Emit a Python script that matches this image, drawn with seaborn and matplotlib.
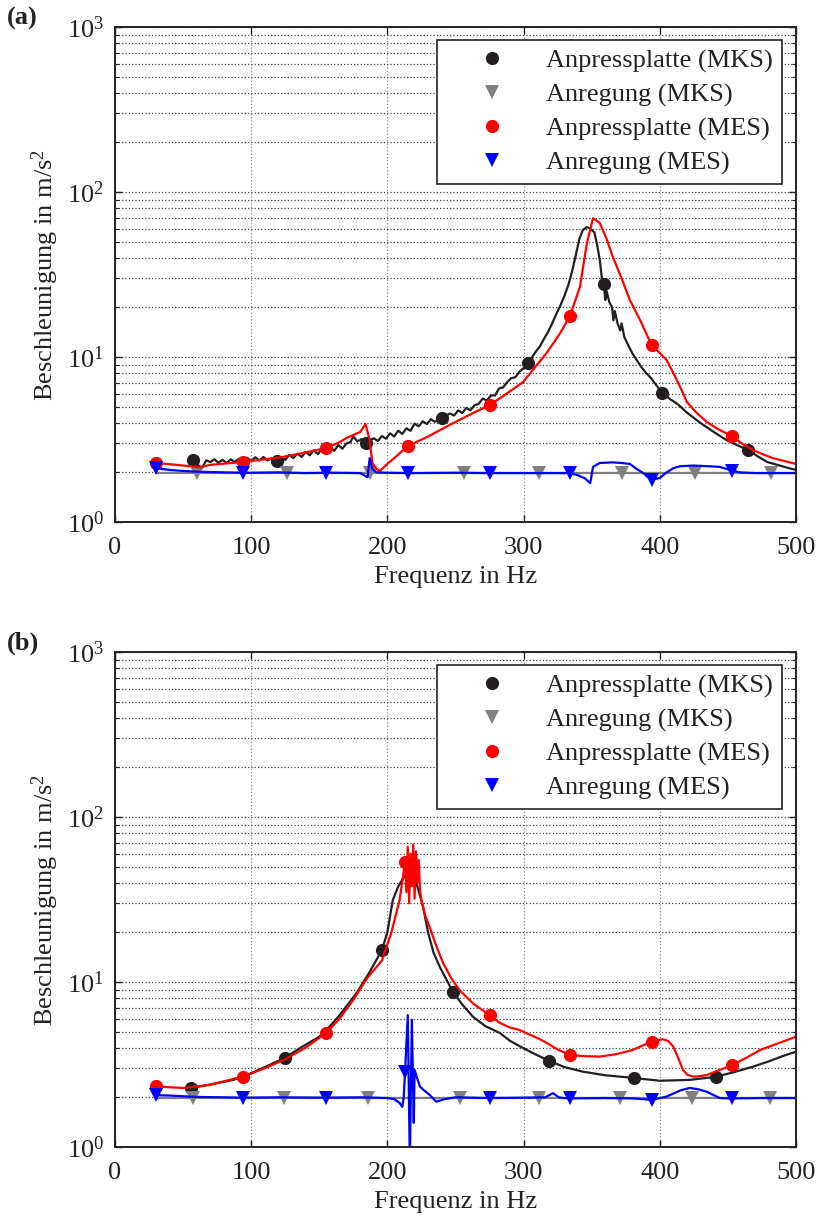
import numpy as np
import matplotlib
matplotlib.use('Agg')
import matplotlib.pyplot as plt
from matplotlib.lines import Line2D
import seaborn as sns

sns.set_style('ticks')
plt.rcParams['font.family'] = ['Liberation Serif', 'DejaVu Serif']
plt.rcParams['mathtext.fontset'] = 'custom'
plt.rcParams['mathtext.rm'] = 'Liberation Serif'
plt.rcParams['mathtext.it'] = 'Liberation Serif:italic'
plt.rcParams['font.size'] = 19

# ---------------- (a) ----------------
a_mks_plate_f = [57, 60, 64, 67, 70, 73, 76, 79, 82, 85, 88, 91, 94, 97, 100, 103, 106, 109, 112, 115,
                 119, 122, 125, 128, 131, 134, 137, 140, 143, 146, 149, 152, 155, 158, 161, 164, 167, 170,
                 173, 175, 178, 181, 184, 187, 190, 193, 196, 199, 202, 205, 208, 211, 214, 217, 220, 223,
                 226, 229, 232, 235, 240, 243, 246, 249, 252, 255, 258, 261, 264, 267, 270, 273, 276, 279,
                 282, 285, 288, 291, 294, 297, 300, 303, 306, 309, 312, 315, 318, 321, 324, 327, 330, 333,
                 336, 339, 341, 343.5, 346.5, 349, 352, 354, 356, 357.5, 359, 360, 361, 363, 365, 366, 367,
                 369, 371, 372, 374, 376, 378, 380, 383, 386, 390, 393, 396, 399, 402, 407, 413, 420, 430,
                 440, 449, 457, 465, 472, 479, 488, 495, 500]
a_mks_plate = [2.37, 2.25, 2.12, 2.37, 2.31, 2.40, 2.29, 2.38, 2.28, 2.40, 2.31, 2.42, 2.33, 2.45, 2.34,
               2.47, 2.36, 2.48, 2.36, 2.44, 2.33, 2.48, 2.38, 2.55, 2.44, 2.60, 2.48, 2.66, 2.54, 2.72,
               2.58, 2.78, 2.65, 2.85, 2.70, 2.93, 2.78, 3.00, 3.05, 3.30, 3.08, 3.18, 3.01, 3.12, 3.22,
               3.10, 3.32, 3.20, 3.45, 3.30, 3.58, 3.42, 3.70, 3.57, 3.95, 3.80, 4.08, 3.93, 4.20, 4.05,
               4.27, 4.40, 4.55, 4.42, 4.75, 4.58, 4.92, 4.76, 5.10, 5.20, 5.60, 5.45, 5.85, 5.85, 6.45,
               6.55, 7.05, 7.45, 7.55, 8.15, 8.55, 9.20, 9.90, 10.8, 11.6, 12.9, 14.2, 16.0, 18.2, 20.5,
               23.5, 27.5, 34.0, 44.0, 52.0, 58.9, 61.4, 60.0, 57.0, 48.0, 38.6, 30.0, 27.7, 22.2, 25.0,
               21.5, 20.0, 16.7, 19.0, 16.0, 14.5, 16.0, 13.2, 12.2, 11.3, 10.5, 9.6, 8.8, 8.0, 7.55,
               7.0, 6.5, 6.05, 5.6, 5.2, 4.6, 3.98, 3.5, 3.14, 2.92, 2.73, 2.5, 2.31, 2.2, 2.12, 2.07]
a_mks_plate_marks = [57, 119, 184, 240, 303, 359, 402, 465]

a_mks_exc_f = [30, 60, 126, 187, 256, 311, 372, 426, 482, 500]
a_mks_exc = [1.99, 1.99, 1.99, 1.99, 1.99, 1.99, 1.99, 1.99, 1.99, 1.99]
a_mks_exc_marks = [60, 126, 187, 256, 311, 372, 426, 482]

a_mes_plate_f = [30, 38, 45.5, 55, 62, 70, 80, 94, 110, 123, 140, 155, 165, 170, 176, 180, 184, 187, 189,
                 192, 194.6, 200, 207, 215, 230, 245, 260, 275, 285, 299.6, 317, 327, 334, 341.4, 346.5,
                 351, 356, 361, 365.6, 372, 378, 386, 394, 400, 405, 410, 415, 420, 427, 434.6, 443, 453,
                 460, 468.4, 476, 483, 491, 500]
a_mes_plate = [2.28, 2.25, 2.22, 2.18, 2.15, 2.22, 2.26, 2.31, 2.40, 2.48, 2.64, 2.81, 3.05, 3.23, 3.40,
               3.51, 3.92, 3.14, 2.28, 2.10, 2.04, 2.25, 2.52, 2.89, 3.30, 3.85, 4.45, 5.12, 5.80, 7.05,
               10.6, 14.0, 17.7, 26.6, 49.0, 69.5, 64.9, 52.0, 40.4, 30.0, 22.2, 16.5, 11.8, 10.6, 9.6,
               8.0, 6.58, 5.33, 4.6, 4.04, 3.65, 3.32, 3.0, 2.73, 2.57, 2.44, 2.35, 2.25]
a_mes_plate_marks = [30, 94, 155, 215, 275, 334, 394, 453]

a_mes_exc_f = [30, 40, 50, 60, 80, 94, 100, 120, 140, 155, 160, 180, 184, 185.5, 187, 189, 192, 200, 215,
               220, 250, 275, 280, 310, 334, 340, 345, 349, 351, 356, 365, 372, 378, 383, 388, 391, 394,
               400, 405, 410, 415, 425, 435, 444, 453, 459, 470, 485, 500]
a_mes_exc = [2.12, 2.07, 2.04, 2.02, 2.00, 1.99, 1.99, 2.00, 1.98, 1.99, 1.99, 1.98, 1.90, 1.87, 2.44,
             2.10, 2.00, 1.99, 1.98, 1.98, 1.99, 1.98, 1.98, 1.98, 1.98, 1.92, 1.84, 1.72, 2.16, 2.28,
             2.30, 2.28, 2.25, 2.10, 1.98, 1.88, 1.80, 1.85, 2.00, 2.12, 2.18, 2.20, 2.18, 2.16, 2.05,
             2.00, 1.98, 1.98, 1.98]
a_mes_exc_marks = [30, 94, 155, 215, 275, 334, 394, 453]

# ---------------- (b) ----------------
b_mks_plate_f = [56, 65, 75, 87, 100, 112, 125, 136, 150, 155.4, 165, 177.4, 187, 196, 200, 204, 208, 212,
                 216, 219, 222, 226, 230, 234, 238.6, 248, 255, 263, 272, 282.7, 290, 299.6, 310, 319,
                 330, 343.6, 360, 381, 400, 422, 441, 455, 468.6, 480, 490, 500]
b_mks_plate = [2.28, 2.35, 2.44, 2.55, 2.80, 3.10, 3.48, 3.98, 4.66, 5.12, 6.3, 8.57, 11.5, 15.6, 20.0,
               31.4, 38.0, 43.0, 47.0, 44.0, 38.0, 29.0, 19.8, 15.0, 12.3, 8.74, 7.3, 6.14, 5.4, 4.9,
               4.4, 3.98, 3.6, 3.32, 3.05, 2.86, 2.72, 2.62, 2.52, 2.55, 2.66, 2.85, 3.07, 3.3, 3.55, 3.78]
b_mks_plate_marks = [56, 125, 196, 248, 319, 381, 441]

b_mks_exc_f = [30, 57, 124, 186, 253, 311, 371, 424, 481, 500]
b_mks_exc = [1.99, 1.99, 1.99, 1.99, 1.99, 1.99, 1.99, 1.99, 1.99, 1.99]
b_mks_exc_marks = [57, 124, 186, 253, 311, 371, 424, 481]

b_mes_plate_f = [30, 40, 50, 60, 70, 80, 94, 110, 125, 140, 155, 165, 175, 185, 196, 203, 209, 213, 214,
                 215, 216, 217, 218, 219, 220, 221, 222, 223, 224, 225, 228, 231, 236, 241, 247, 253, 263,
                 275, 282.7, 290, 297, 302, 312, 317, 325, 334, 345, 356, 368, 380, 394, 402, 406, 410,
                 414, 417, 420, 424.5, 429, 434.5, 445, 453, 463, 473.6, 487, 500]
b_mes_plate = [2.34, 2.30, 2.28, 2.33, 2.38, 2.50, 2.67, 3.0, 3.4, 4.0, 4.9, 6.0, 7.8, 10.5, 13.5, 20.0,
               31.4, 53.6, 35.0, 66.0, 30.0, 60.0, 38.0, 68.0, 32.0, 62.0, 40.0, 55.0, 36.0, 31.4, 25.0,
               21.6, 16.5, 13.0, 10.5, 8.93, 7.4, 6.3, 5.64, 5.3, 5.12, 4.9, 4.5, 4.27, 3.9, 3.61, 3.55,
               3.53, 3.65, 3.87, 4.35, 4.5, 4.4, 4.05, 3.4, 2.93, 2.75, 2.67, 2.68, 2.73, 2.95, 3.14,
               3.45, 3.87, 4.25, 4.66]
b_mes_plate_marks = [30, 94, 155, 213, 275, 334, 394, 453]

b_mes_exc_f = [30, 40, 50, 60, 80, 94, 120, 155, 180, 200, 205, 209, 211, 212, 213, 215, 216.5, 218,
               219.4, 220, 222, 224, 227, 231, 236, 242, 250, 275, 300, 316, 321.6, 326, 329, 334, 360,
               380, 394, 405, 415, 422, 428, 434.6, 444, 453, 475, 500]
b_mes_exc = [2.06, 2.05, 2.03, 2.01, 2.00, 1.99, 2.00, 1.99, 2.00, 1.98, 1.95, 1.85, 1.75, 2.0, 2.86,
             6.3, 0.8, 5.9, 1.4, 2.93, 2.6, 2.32, 2.2, 2.07, 1.88, 1.95, 2.0, 1.98, 1.99, 2.0, 2.12,
             2.0, 1.98, 1.97, 1.98, 1.97, 1.93, 2.02, 2.2, 2.28, 2.24, 2.16, 1.98, 1.97, 1.98, 1.98]
b_mes_exc_marks = [30, 94, 155, 213, 275, 334, 394, 453]

labels = ['Anpressplatte (MKS)', 'Anregung (MKS)', 'Anpressplatte (MES)', 'Anregung (MES)']
colors = ['#231f20', '#808080', '#ff0000', '#0000ff']
markers = ['o', 'v', 'o', 'v']

panels = [
    ('(a)', [(a_mks_plate_f, a_mks_plate, a_mks_plate_marks),
             (a_mks_exc_f, a_mks_exc, a_mks_exc_marks),
             (a_mes_plate_f, a_mes_plate, a_mes_plate_marks),
             (a_mes_exc_f, a_mes_exc, a_mes_exc_marks)]),
    ('(b)', [(b_mks_plate_f, b_mks_plate, b_mks_plate_marks),
             (b_mks_exc_f, b_mks_exc, b_mks_exc_marks),
             (b_mes_plate_f, b_mes_plate, b_mes_plate_marks),
             (b_mes_exc_f, b_mes_exc, b_mes_exc_marks)]),
]

fig = plt.figure(figsize=(8.21, 12.22), dpi=100)
axes_pos = [[0.140, 0.5728, 0.8295, 0.405], [0.140, 0.0614, 0.8295, 0.405]]
label_y = [1 - 18 / 1222, 1 - 643 / 1222]

for (tag, series), pos, ly in zip(panels, axes_pos, label_y):
    ax = fig.add_axes(pos)
    for (f, v, marks), c, m in zip(series, colors, markers):
        idx = [i for i, x in enumerate(f) if x in marks]
        sns.lineplot(x=f, y=v, ax=ax, color=c, lw=1.6, sort=False, estimator=None,
                     marker=m, markevery=idx, markersize=9.5, markeredgewidth=0, legend=False)
    ax.set_yscale('log')
    ax.set_xlim(0, 500)
    ax.set_ylim(1, 1000)
    ax.set_xticks([0, 100, 200, 300, 400, 500])
    ax.grid(True, axis='x', which='major', ls=':', color='#8a8a8a', lw=0.9)
    ax.grid(True, axis='y', which='both', ls=':', color='#444444', lw=0.9)
    ax.tick_params(which='both', direction='in', top=True, right=True, colors='#222222', labelcolor='#222222')
    ax.tick_params(which='major', length=5, width=1)
    ax.tick_params(which='minor', length=3, width=0.8)
    ax.tick_params(axis='x', pad=11)
    ax.tick_params(axis='y', pad=8)
    for s in ax.spines.values():
        s.set_linewidth(1.4)
        s.set_color('#222222')
    ax.set_xlabel('Frequenz in Hz', labelpad=5, color='#222222')
    ax.set_ylabel('Beschleunigung in m/s$^{2}$', labelpad=4, color='#222222')

    handles = [Line2D([], [], ls='none', marker=m, color=c, markersize=9.5, markeredgewidth=0)
               for c, m in zip(colors, markers)]
    leg = ax.legend(handles, labels, loc='upper right', bbox_to_anchor=(0.979, 0.974),
                    frameon=True, fancybox=False, framealpha=1, edgecolor='#222222',
                    handlelength=3.4, handletextpad=0.35, labelspacing=0.38, borderpad=0.35,
                    borderaxespad=0)
    leg.get_frame().set_linewidth(1.2)
    for t in leg.get_texts():
        t.set_color('#222222')
    fig.text(7 / 821, ly, tag, ha='left', va='center', fontweight='bold', fontsize=19, color='#222222')

fig.savefig('out.png', dpi=100)
